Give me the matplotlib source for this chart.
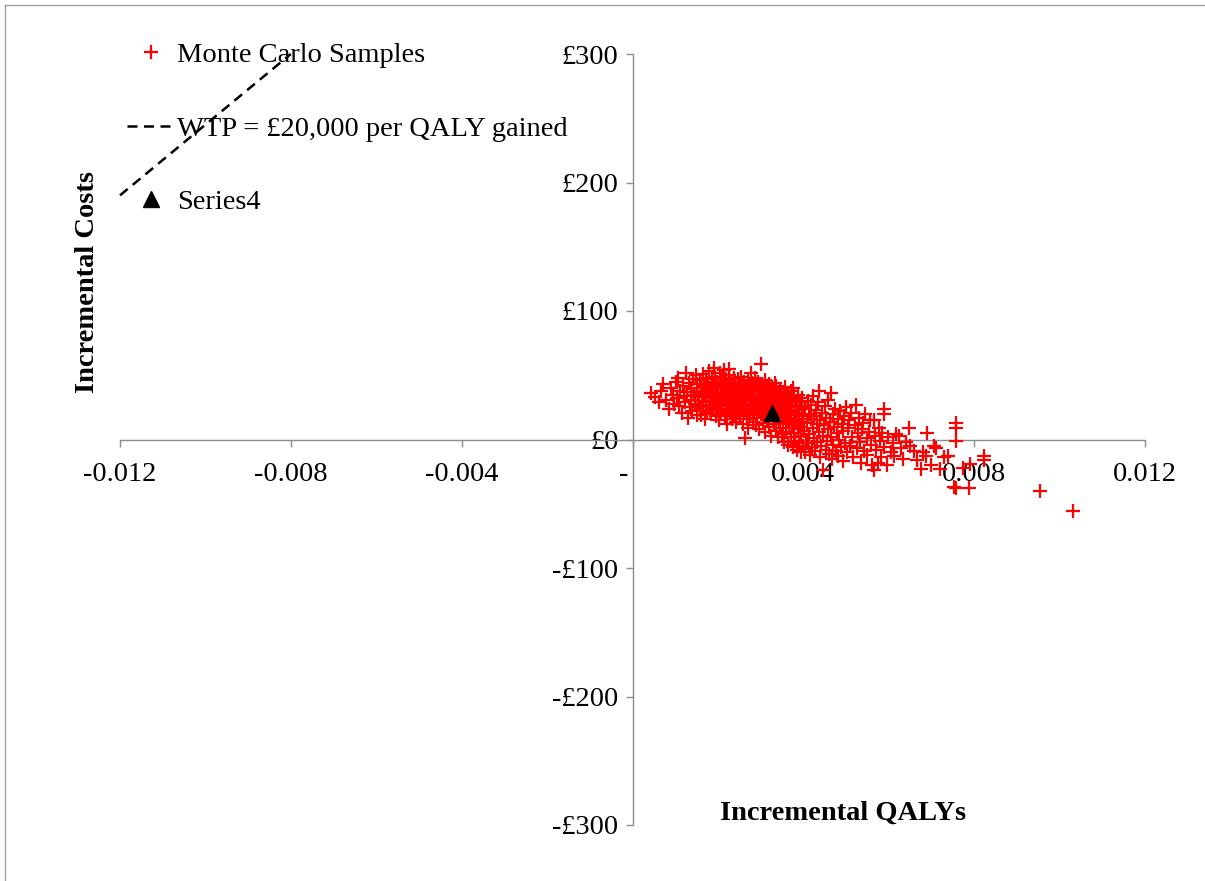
# Cost-effectiveness plane: Monte Carlo samples of incremental QALYs vs costs
import matplotlib.pyplot as plt
from matplotlib.lines import Line2D
import matplotlib.transforms as mtransforms

plt.rcParams["font.family"] = ["Liberation Serif", "DejaVu Serif"]

# Monte Carlo samples (incremental QALYs, incremental costs in £)
mc_qaly = [
    0.00044, 0.00052, 0.00061, 0.00066, 0.00072, 0.00078, 0.00086, 0.00090, 0.00095, 0.00098,
    0.00102, 0.00105, 0.00107, 0.00110, 0.00112, 0.00115, 0.00118, 0.00120, 0.00122, 0.00126,
    0.00128, 0.00130, 0.00132, 0.00134, 0.00136, 0.00138, 0.00140, 0.00142, 0.00144, 0.00146,
    0.00148, 0.00150, 0.00150, 0.00152,
    0.00154, 0.00155, 0.00157, 0.00158, 0.00160, 0.00161, 0.00162, 0.00164, 0.00165, 0.00166,
    0.00168, 0.00169, 0.00170, 0.00171, 0.00172, 0.00174, 0.00175, 0.00176, 0.00178, 0.00179,
    0.00180, 0.00181, 0.00182, 0.00184, 0.00185, 0.00186, 0.00188, 0.00189, 0.00190, 0.00191,
    0.00192, 0.00193, 0.00194, 0.00195, 0.00196, 0.00197, 0.00198, 0.00199, 0.00200,
    0.00201, 0.00202, 0.00203, 0.00204, 0.00205, 0.00206, 0.00207, 0.00208, 0.00209, 0.00210,
    0.00211, 0.00212, 0.00213, 0.00214, 0.00215, 0.00216, 0.00217, 0.00218, 0.00219, 0.00220,
    0.00221, 0.00222, 0.00223, 0.00224, 0.00225, 0.00226, 0.00227, 0.00228, 0.00229, 0.00230,
    0.00231, 0.00232, 0.00233, 0.00234, 0.00235, 0.00236, 0.00237, 0.00238, 0.00239, 0.00240,
    0.00241, 0.00242, 0.00243, 0.00244, 0.00245, 0.00246, 0.00247, 0.00248, 0.00249, 0.00250,
    0.00251, 0.00252, 0.00253, 0.00254, 0.00255, 0.00256, 0.00257, 0.00258, 0.00259, 0.00260,
    0.00261, 0.00262, 0.00263, 0.00264, 0.00265, 0.00266, 0.00267, 0.00268, 0.00269, 0.00270,
    0.00271, 0.00272, 0.00273, 0.00274, 0.00275, 0.00276, 0.00277, 0.00278, 0.00279, 0.00280,
    0.00281, 0.00282, 0.00283, 0.00284, 0.00285, 0.00286, 0.00287, 0.00288, 0.00289, 0.00290,
    0.00291, 0.00292, 0.00293, 0.00294, 0.00295, 0.00296, 0.00297, 0.00298, 0.00299, 0.00300,
    0.00301, 0.00302, 0.00303, 0.00304, 0.00305, 0.00306, 0.00307, 0.00308, 0.00309, 0.00310,
    0.00311, 0.00312, 0.00313, 0.00314, 0.00315, 0.00316, 0.00317, 0.00318, 0.00319, 0.00320,
    0.00321, 0.00322, 0.00323, 0.00324, 0.00325, 0.00326, 0.00327, 0.00328, 0.00329, 0.00330,
    0.00331, 0.00332, 0.00333, 0.00334, 0.00335, 0.00336, 0.00337, 0.00338, 0.00339, 0.00340,
    0.00341, 0.00342, 0.00343, 0.00344, 0.00345, 0.00346, 0.00347, 0.00348, 0.00349, 0.00350,
    0.00351, 0.00352, 0.00353, 0.00354, 0.00355, 0.00356, 0.00357, 0.00358, 0.00359, 0.00360,
    0.00361, 0.00362, 0.00363, 0.00364, 0.00365, 0.00366, 0.00367, 0.00368, 0.00369, 0.00370,
    0.00371, 0.00372, 0.00373, 0.00374, 0.00375, 0.00376, 0.00377, 0.00378, 0.00379, 0.00380,
    0.00381, 0.00382, 0.00383, 0.00384, 0.00385, 0.00386, 0.00387, 0.00388, 0.00389, 0.00390,
    0.00391, 0.00392, 0.00393, 0.00394, 0.00395, 0.00396, 0.00397, 0.00398, 0.00399, 0.00400,
    0.00402, 0.00404, 0.00405, 0.00407, 0.00408, 0.00410, 0.00411, 0.00413, 0.00414, 0.00416,
    0.00417, 0.00419, 0.00420, 0.00422, 0.00423, 0.00425, 0.00426, 0.00428, 0.00430, 0.00431,
    0.00433, 0.00435, 0.00436, 0.00437, 0.00439, 0.00440, 0.00442, 0.00443, 0.00446, 0.00447,
    0.00449, 0.00450, 0.00452, 0.00454, 0.00455, 0.00457, 0.00458, 0.00460, 0.00462, 0.00464,
    0.00465, 0.00467, 0.00469, 0.00470, 0.00472, 0.00474, 0.00476, 0.00478, 0.00480, 0.00482,
    0.00484, 0.00486, 0.00488, 0.00490, 0.00492, 0.00494, 0.00496, 0.00498,
    0.00501, 0.00503, 0.00505, 0.00508, 0.00510, 0.00512, 0.00515, 0.00517, 0.00520, 0.00523,
    0.00525, 0.00527, 0.00530, 0.00533, 0.00535, 0.00538, 0.00540, 0.00543, 0.00545, 0.00548,
    0.00550, 0.00553, 0.00555, 0.00558, 0.00560, 0.00565, 0.00565, 0.00568, 0.00570, 0.00574,
    0.00576, 0.00580, 0.00583, 0.00585, 0.00588, 0.00588, 0.00590, 0.00595, 0.00598,
    0.00605, 0.00610, 0.00612, 0.00618, 0.00623, 0.00628, 0.00633, 0.00640, 0.00647, 0.00650,
    0.00658, 0.00665, 0.00675, 0.00680, 0.00687, 0.00689, 0.00698, 0.00705, 0.00710, 0.00720,
    0.00730, 0.00738, 0.00752, 0.00757, 0.00757, 0.00757, 0.00757, 0.00773, 0.00787, 0.00790,
    0.00822, 0.00822, 0.00955, 0.01032,
]
mc_cost = [
    36, 33, 29, 38, 43, 31, 24, 40, 35, 28,
    45, 32, 48, 26, 38, 21, 42, 34, 29, 52,
    37, 17, 44, 25, 31, 40, 22, 47, 35, 28,
    50, 19, 38, 43,
    27, 33, 46, 23, 40, 19, 36, 30, 51, 25,
    42, 34, 16, 48, 29, 38, 22, 44, 32, 53,
    26, 40, 35, 20, 47, 30, 43, 24, 37, 56,
    28, 49, 33, 18, 41, 27, 45, 36, 22,
    39, 31, 15, 52, 26, 44, 34, 20, 48, 29,
    37, 23, 42, 32, 54, 18, 40, 27, 46, 35,
    12, 30, 43, 24, 50, 55, 33, 21, 39, 28,
    45, 16, 36, 26, 41, 31, 48, 19, 38, 25,
    44, 34, 14, 29, 40, 22, 47, 32, 37, 27,
    43, 18, 35, 30, 49, 24, 39, 12, 33, 45,
    27, 21, 37, 1, 31, 42, 16, 34, 26, 46,
    9, 38, 22, 30, 41, 19, 35, 52, 25, 44,
    14, 32, 28, 39, 21, 48, 34, 11, 26, 42,
    30, 17, 37, 23, 45, 33, 8, 28, 40, 20,
    59, 35, 25, 43, 13, 31, 38, 18, 27, 46,
    6, 34, 22, 40, 29, 15, 36, 24, 43, 10,
    32, 27, 19, 38, 3, 30, 41, 16, 25, 35,
    12, 28, 21, 44, 7, 42, 33, 17, 26, 37,
    2, 30, 23, 14, 39, 9, 27, 34, 19, 4,
    31, 24, 12, 37, -2, 28, 18, 41, 6, 33,
    22, 14, 29, -4, 36, 9, 25, 17, 31, 2,
    38, 20, 11, 27, -6, 40, 15, 34, 5, 23,
    -1, 30, 13, 19, -8, 26, 8, 35, 16, -3,
    21, 10, 29, 3, -10, 24, 14, 32, -5, 18,
    7, -10, 25, -3, 13, 30, -3, 20, 4, -12,
    16, 27, -6, 9, 34, 1, 18, -9, 23, 12,
    -2, 29, 6, 38, -14, 15, -5, 21, -24, 3,
    11, 26, -8, 17, -1, 8, 31, -11, 14, 2,
    36, -15, 20, -4, 10, 24, -9, 5, 16, -13,
    0, 22, -6, 12, -17, 7, 18, -3,
    25, -10, 9, 15, -5, 21, 2, -14, 11, 26.5,
    -7, 5, 17, -2, -18, 8, 13, -9, 20, 1,
    -12, 6, 15, -4, -20, -24, 15, 3, -8, -18,
    9, -1, -14, 5, 24, 20, -6, -20, 2,
    -10, -3, -12.5, 4, 3, -7, -14.8, -2, 8.6, -5,
    -8.6, -16, -22.6, -10, -12.5, 4.7, -20, -4.7, -7, -22.6,
    -14, -12.5, -37, -38, 12.5, 8.6, -1, -22, -38, -19,
    -12.5, -16, -40, -56,
]

# Base case point (Series4)
base_qaly = [0.00327]
base_cost = [21]

# Willingness-to-pay line as drawn in the source chart
wtp_qaly = [-0.012, -0.008]
wtp_cost = [190, 300]

x_ticks = [-0.012, -0.008, -0.004, 0, 0.004, 0.008, 0.012]
x_labels = ["-0.012", "-0.008", "-0.004", "-", "0.004", "0.008", "0.012"]
y_ticks = [-300, -200, -100, 0, 100, 200, 300]
y_labels = ["-£300", "-£200", "-£100", "£0", "£100", "£200", "£300"]

W, H = 1205, 881
fig = plt.figure(figsize=(W / 100, H / 100), dpi=100)
ax = fig.add_axes([120 / W, 1 - 825 / H, (1145 - 120) / W, (825 - 54) / H])

fs = 20.5
grey = "#8c8c8c"

ax.plot(mc_qaly, mc_cost, linestyle="none", marker="+", markersize=10,
        markeredgewidth=1.6, color="#ff0000", label="Monte Carlo Samples", zorder=3)
ax.plot(wtp_qaly, wtp_cost, color="black", linewidth=1.8, dashes=(4, 2.6),
        label="WTP = £20,000 per QALY gained", zorder=2, clip_on=False)
ax.plot(base_qaly, base_cost, linestyle="none", marker="^", markersize=12,
        color="black", label="Series4", zorder=4)

ax.set_xlim(-0.012, 0.012)
ax.set_ylim(-300, 300)

# axes crossing at the origin, Excel style
ax.spines["left"].set_position(("data", 0))
ax.spines["bottom"].set_position(("data", 0))
ax.spines["right"].set_visible(False)
ax.spines["top"].set_visible(False)
for s in ("left", "bottom"):
    ax.spines[s].set_color(grey)
    ax.spines[s].set_linewidth(1.0)

ax.set_xticks(x_ticks)
ax.set_xticklabels(x_labels, fontsize=fs)
ax.set_yticks(y_ticks)
ax.set_yticklabels(y_labels, fontsize=fs)
ax.tick_params(axis="x", direction="out", length=5, width=1.0, color=grey, pad=11)
ax.tick_params(axis="y", direction="out", length=5, width=1.0, color=grey, pad=5)

# the "-" zero label sits a little left of the axis in the original
zero_lab = ax.get_xticklabels()[3]
zero_lab.set_transform(zero_lab.get_transform() +
                       mtransforms.ScaledTranslation(-9 / 100, 0, fig.dpi_scale_trans))

ax.set_facecolor("none")

leg = ax.legend(loc="upper left", bbox_to_anchor=(127 / W, 1 - 42 / H),
                bbox_transform=fig.transFigure, frameon=False, fontsize=fs,
                handlelength=1.7, handletextpad=0.05, labelspacing=1.68,
                borderpad=0, borderaxespad=0, numpoints=1)

fig.text(88 / W, 1 - 282 / H, "Incremental Costs", rotation=90, fontsize=fs,
         fontweight="bold", ha="center", va="center")
fig.text(843 / W, 1 - 813 / H, "Incremental QALYs", fontsize=fs,
         fontweight="bold", ha="center", va="center")

# chart-area border (top and left edges visible)
fig.add_artist(Line2D([5 / W, 1], [1 - 5 / H, 1 - 5 / H], color="#a0a0a0", linewidth=1.0))
fig.add_artist(Line2D([5 / W, 5 / W], [0, 1 - 5 / H], color="#a0a0a0", linewidth=1.0))

fig.savefig("out.png", dpi=100)
